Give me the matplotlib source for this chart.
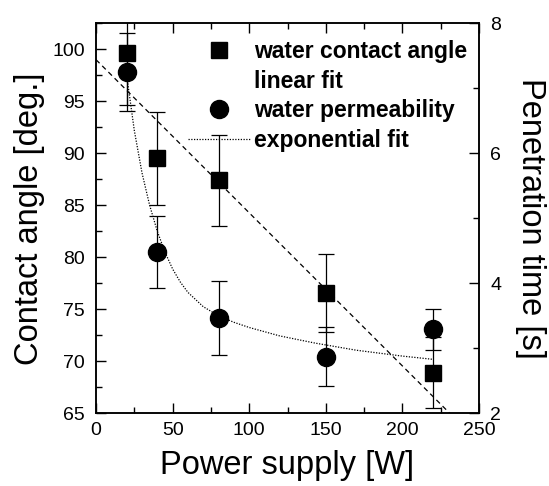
import matplotlib
matplotlib.use("Agg")
import matplotlib.pyplot as plt
from matplotlib.lines import Line2D
from matplotlib.ticker import MultipleLocator

plt.rcParams['font.family'] = ['Liberation Sans', 'DejaVu Sans']

# ---- data ----
power = [20, 40, 80, 150, 220]
angle = [99.6, 89.5, 87.4, 76.6, 68.9]          # water contact angle [deg.]
angle_err = [5.0, 4.5, 4.35, 3.75, 3.4]
ptime = [7.25, 4.48, 3.47, 2.87, 3.29]          # penetration time [s]
ptime_err = [0.6, 0.55, 0.57, 0.45, 0.32]

# linear fit (left axis) end points
lin_x = [0, 235]
lin_y = [99.0, 64.4]

# exponential fit (right axis)
exp_x = [20, 25, 30, 35, 40, 45, 50, 55, 60, 70, 80, 90, 100, 120, 143, 170, 200, 220]
exp_y = [7.20, 6.35, 5.70, 5.20, 4.80, 4.48, 4.22, 4.02, 3.86, 3.64, 3.50, 3.40,
         3.32, 3.19, 3.08, 2.97, 2.88, 2.83]

# ---- figure ----
fig = plt.figure(figsize=(5.49, 4.86), dpi=100)
ax1 = fig.add_axes([0.1749, 0.1496, 0.6976, 0.8025])
ax2 = ax1.twinx()

ax1.errorbar(power, angle, yerr=angle_err, fmt='s', color='black', ms=11,
             ecolor='black', elinewidth=0.9, capsize=6, capthick=0.9)
ax1.plot(lin_x, lin_y, color='black', lw=0.9, dashes=(4, 3))

ax2.errorbar(power, ptime, yerr=ptime_err, fmt='o', color='black', ms=13,
             ecolor='black', elinewidth=0.9, capsize=6, capthick=0.9)
ax2.plot(exp_x, exp_y, color='black', lw=0.9, dashes=(1, 1.2))

ax1.set_xlim(0, 250)
ax1.set_ylim(65, 102.5)
ax2.set_ylim(2, 8)

ax1.xaxis.set_major_locator(MultipleLocator(50))
ax1.xaxis.set_minor_locator(MultipleLocator(25))
ax1.yaxis.set_major_locator(MultipleLocator(5))
ax1.yaxis.set_minor_locator(MultipleLocator(2.5))
ax2.yaxis.set_major_locator(MultipleLocator(2))
ax2.yaxis.set_minor_locator(MultipleLocator(1))

ax1.tick_params(axis='x', which='both', direction='in', top=True, labelsize=14, pad=6)
ax1.tick_params(axis='y', which='both', direction='in', labelsize=14, pad=8)
ax2.tick_params(axis='y', which='both', direction='in', labelsize=14, pad=8)
for a in (ax1, ax2):
    a.tick_params(which='major', length=7, width=1)
    a.tick_params(which='minor', length=4, width=1)
    for s in a.spines.values():
        s.set_linewidth(1.1)

ax1.set_xlabel('Power supply [W]', fontsize=23.5, labelpad=8)
ax1.set_ylabel('Contact angle [deg.]', fontsize=23.5, labelpad=5)
ax2.set_ylabel('Penetration time [s]', fontsize=23.5, rotation=270, labelpad=32)

handles = [
    Line2D([], [], marker='s', ms=11, color='black', linestyle='none'),
    Line2D([], [], linestyle='none'),
    Line2D([], [], marker='o', ms=13, color='black', linestyle='none'),
    Line2D([], [], color='black', lw=0.9, dashes=(1, 1.2)),
]
labels = ['water contact angle', 'linear fit', 'water permeability', 'exponential fit']
ax2.legend(handles, labels, loc='upper left', bbox_to_anchor=(0.24, 0.957),
           frameon=False, borderpad=0, borderaxespad=0, handlelength=2.7,
           handletextpad=0.2, labelspacing=0.29,
           prop={'family': 'Liberation Sans', 'weight': 'bold', 'size': 16.5})

fig.savefig('out.png', dpi=100)
